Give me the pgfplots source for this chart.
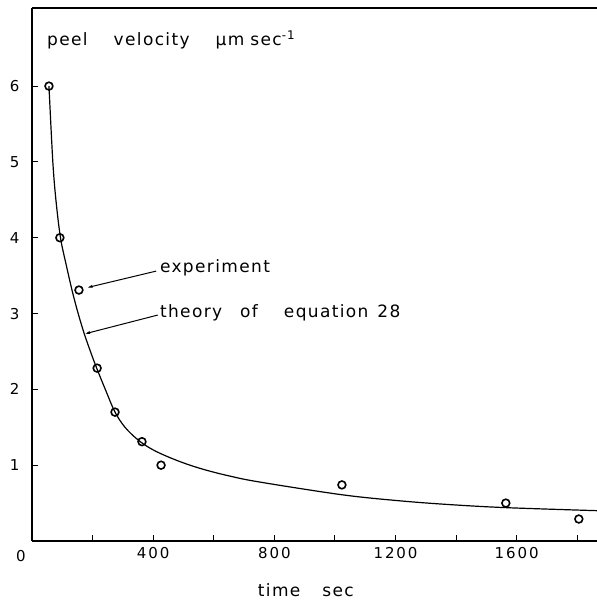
\documentclass[border=0pt]{standalone}
\usepackage{fontspec}
\setmainfont{DejaVu Sans}[LetterSpace=13]
\newfontfamily\labfam{DejaVu Sans}[LetterSpace=8]
\usepackage{pgfplots}
\pgfplotsset{compat=1.18}
\usetikzlibrary{arrows.meta}
\newcommand{\myfont}{\fontsize{15bp}{17bp}\selectfont}
\newcommand{\labfont}{\labfam\fontsize{17bp}{19bp}\selectfont}
\begin{document}
\begin{tikzpicture}
\begin{axis}[
  scale only axis,
  width=565bp, height=533bp,
  xmin=0, xmax=1865, ymin=0, ymax=7.03,
  axis x line*=bottom, axis y line*=left,
  axis line style={line width=1.6bp},
  xtick={200,400,...,1800},
  xticklabels={,400,,800,,1200,,1600,},
  ytick={1,2,3,4,5,6},
  tick align=inside,
  major tick length=6bp,
  tick style={line width=1bp, black},
  /pgf/number format/assume math mode=true,
  every tick label/.append style={font=\myfont},
  xticklabel style={yshift=-3bp},
  yticklabel style={xshift=-9bp},
  clip=false,
]
\addplot[black, line width=1.2bp, smooth, tension=0.55] coordinates {
(56,6.00) (68.6,5.01) (78.9,4.50) (94,4.00) (112.5,3.65) (132,3.31)
(151,3.02) (172,2.74) (192,2.51) (213.5,2.28) (244,1.98) (274,1.70)
(307,1.50) (351,1.33) (396,1.21) (449,1.11) (507,1.02) (570,0.94)
(649,0.86) (748,0.78) (1023,0.61) (1214,0.53) (1379,0.48) (1564,0.44)
(1865,0.40)
};
\addplot[only marks, mark=o, mark size=3.9bp, mark options={line width=1.6bp, fill=white}, black] coordinates {
(56,6.0) (92,4.0) (155,3.31) (215,2.28) (274,1.70) (363,1.31) (426,1.00)
(1023,0.74) (1564,0.50) (1805,0.29)
};
\draw[line width=2bp] (rel axis cs:0,1) -- (rel axis cs:1,1);
\node[anchor=west, font=\labfont, inner sep=0pt] at (axis cs:49.5,6.61) {peel\hspace{26bp}velocity\hspace{26bp}µm\hspace{6bp}sec\textsuperscript{-1}};
\node[anchor=west, font=\labfont, inner sep=0pt] at (axis cs:422,3.60) {experiment};
\node[anchor=west, font=\labfont, inner sep=0pt] at (axis cs:422,3.01) {theory\hspace{18bp}of\hspace{26bp}equation\hspace{9bp}28};
\draw[line width=1bp, -{Latex[length=6bp,width=3bp]}] (axis cs:410,3.56) -- (axis cs:180,3.34);
\draw[line width=1bp, -{Latex[length=6bp,width=3bp]}] (axis cs:415,2.98) -- (axis cs:172,2.73);
\node[font=\myfont] at (rel axis cs:0,0) [xshift=-11bp, yshift=-15bp] {0};
\node[font=\labfont] at (axis cs:904,0) [yshift=-49bp] {time\hspace{22bp}sec};
\coordinate (bl) at (rel axis cs:0,0);
\coordinate (tr) at (rel axis cs:1,1);
\end{axis}
\pgfresetboundingbox
\path[use as bounding box] ([shift={(-32bp,-59bp)}]bl) rectangle ([shift={(0bp,8bp)}]tr);
\end{tikzpicture}
\end{document}
